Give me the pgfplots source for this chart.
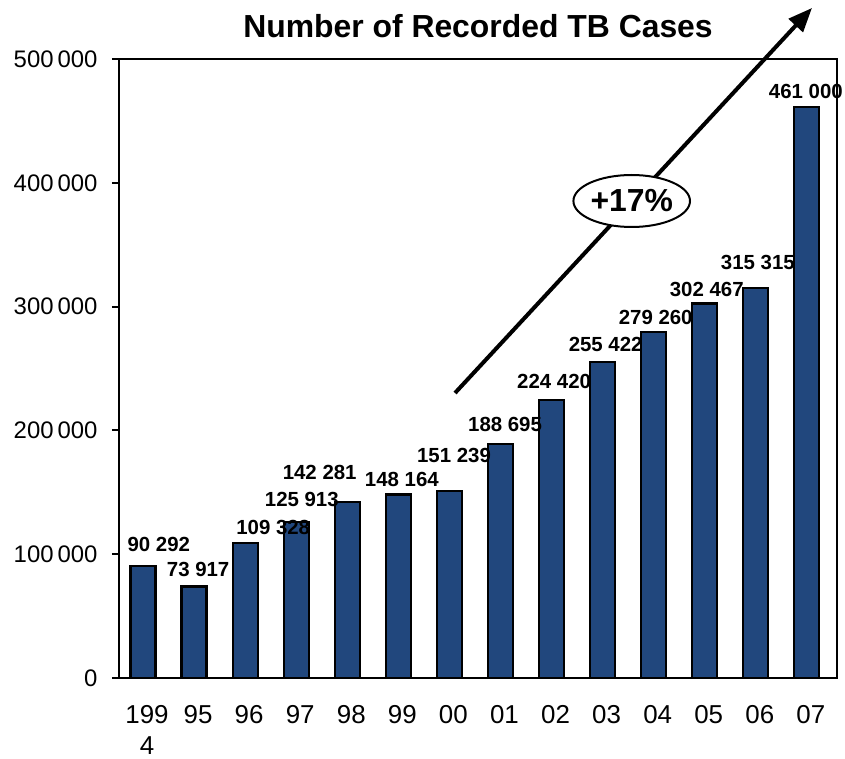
\documentclass[border=0pt]{standalone}
\usepackage{fontspec}
\setmainfont{Liberation Sans}
\usepackage{pgfplots}
\usepackage{pgfplotstable}
\pgfplotsset{compat=1.18}
\usetikzlibrary{arrows.meta,shapes.geometric}
\definecolor{barblue}{RGB}{33,71,125}

% recorded cases per year (x = 0 for 1994 ... 13 for 2007)
\pgfplotstableread{
x y
0 90292
1 73917
2 109328
3 125913
4 142281
5 148164
6 151239
7 188695
8 224420
9 255422
10 279260
11 302467
12 315315
13 461000
}\cases

% value labels, placed where they sit in the chart
\pgfplotstableread[col sep=comma]{
x,y,label
0.31,108240,90 292
1.08,88050,73 917
2.55,121970,109 328
3.11,144590,125 913
3.46,166400,142 281
5.07,160740,148 164
6.09,180130,151 239
7.09,205170,188 695
8.05,239900,224 420
9.06,269790,255 422
10.04,291600,279 260
11.04,314220,302 467
12.04,336030,315 315
12.98,474150,461 000
}\labels

\begin{document}
\begin{tikzpicture}
\begin{axis}[
  scale only axis, width=718bp, height=619bp,
  xmin=-0.47, xmax=13.59, ymin=0, ymax=500000,
  clip=false,
  axis line style={line width=2bp},
  xtick={0,...,13},
  xticklabels={{199\\4},95,96,97,98,99,00,01,02,03,04,05,06,07},
  xtick style={draw=none},
  xticklabel style={font=\fontsize{26}{31}\selectfont, align=center, xshift=4bp},
  xticklabel shift=17bp,
  scaled y ticks=false,
  ytick={0,100000,200000,300000,400000,500000},
  yticklabels={0,100\,000,200\,000,300\,000,400\,000,500\,000},
  ytick pos=left,
  tick align=outside, major tick length=7bp,
  ytick style={line width=2bp, black},
  yticklabel style={font=\fontsize{24}{28}\selectfont},
  yticklabel shift=11bp,
  title={Number of Recorded TB Cases},
  title style={font=\bfseries\fontsize{32}{36}\selectfont, at={(0.5,1)}, anchor=base, yshift=16bp},
]
\addplot[ybar, bar width=25bp, fill=barblue, draw=black, line width=2.2bp]
  table[x=x,y=y]{\cases};
\addplot[only marks, mark=none, nodes near coords, point meta=explicit symbolic,
  nodes near coords style={anchor=center, font=\bfseries\fontsize{20.5}{23}\selectfont}]
  table[x=x,y=y,meta=label]{\labels};
\draw[line width=4bp, -{Triangle[length=24bp,width=19bp]}]
  (axis cs:6.11,230210) -- (axis cs:13.10,541200);
\node[ellipse, draw=black, fill=white, line width=2bp, inner sep=0pt,
  minimum width=111bp, minimum height=52bp, font=\bfseries\fontsize{32}{36}\selectfont]
  at (axis cs:9.57,385300) {+17\%};
\coordinate (sw) at (rel axis cs:0,0);
\end{axis}
\pgfresetboundingbox
\path[use as bounding box] ([xshift=-119bp,yshift=-81bp]sw) rectangle ([xshift=726bp,yshift=678bp]sw);
\end{tikzpicture}
\end{document}
